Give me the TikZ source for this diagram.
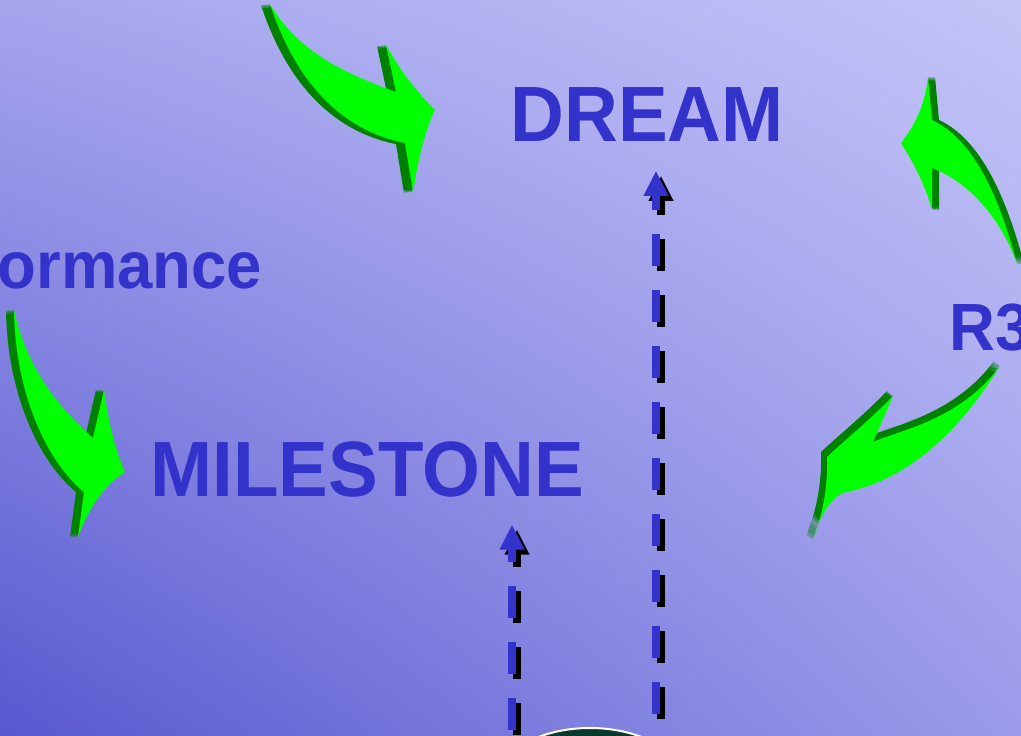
\documentclass[tikz,border=0pt]{standalone}
\usepackage{fontspec}
\setmainfont{Liberation Sans}[FakeStretch=0.95]
\usetikzlibrary{arrows.meta, shapes.geometric, shadings}
\definecolor{ink}{HTML}{3333CC}
\definecolor{leafgreen}{HTML}{00FF00}
\definecolor{leafdark}{HTML}{008000}
\definecolor{goalfill}{HTML}{0B3A2C}
\definecolor{bgLL}{RGB}{88,88,208}
\definecolor{bgUR}{RGB}{196,196,248}
\definecolor{bgUL}{RGB}{165,165,238}
\definecolor{bgLR}{RGB}{155,155,234}

% green bent arrow with a dark extruded side: dx, dy, outline
\newcommand\bentarrow[3]{%
  \foreach \s in {1,...,10}
    \fill[leafdark, shift={(\s/10*#1,\s/10*#2)}] #3;
  \fill[leafgreen] #3;}

\begin{document}
\begin{tikzpicture}[
        x=0.01cm, y=-0.01cm,
        word/.style={text=ink, font=\bfseries\fontsize{22.3}{26}\selectfont, inner sep=0pt, anchor=base west},
        smallword/.style={word, font=\bfseries\fontsize{19}{22}\selectfont},
        goal/.style={ellipse, draw=white, line width=0.02cm, fill=goalfill, minimum width=1.95cm, minimum height=1.2cm},
        flow/.style={draw=ink, line width=0.08cm, dash pattern=on 0.32cm off 0.24cm, -{Triangle[length=0.25cm, width=0.23cm]}},
        flowshadow/.style={flow, draw=black, transform canvas={xshift=0.05cm, yshift=-0.05cm}}
    ]

    \useasboundingbox (0,0) rectangle (1021,735);
    \clip (0,0) rectangle (1021,735);
    \shade[lower left=bgLL, upper right=bgUR, upper left=bgUL, lower right=bgLR] (0,0) rectangle (1021,735);

    % green arrows
    \bentarrow{-9}{1}{(270,4) .. controls (295,80) and (340,130) .. (405,143) -- (413,192)
        .. controls (418,160) and (425,130) .. (435,110) .. controls (415,90) and (400,70) .. (386,45)
        -- (396,92) .. controls (350,75) and (300,55) .. (270,4) -- cycle}
    \bentarrow{-8}{0}{(14,310) .. controls (15,390) and (45,460) .. (84,492) -- (78,537)
        .. controls (90,505) and (105,485) .. (125,472) .. controls (115,450) and (108,420) .. (104,390)
        -- (93,438) .. controls (50,400) and (25,360) .. (14,310) -- cycle}
    \bentarrow{7}{0}{(1017,264) .. controls (1000,200) and (975,140) .. (932,120) -- (928,77)
        .. controls (925,105) and (915,125) .. (901,143) .. controls (915,165) and (925,185) .. (932,210)
        -- (932,168) .. controls (965,180) and (1000,215) .. (1017,264) -- cycle}
    \bentarrow{-6}{-5}{(1000,366) .. controls (960,420) and (900,430) .. (873,442) -- (893,396)
        .. controls (870,420) and (845,440) .. (827,457) .. controls (828,490) and (822,515) .. (813,540)
        .. controls (820,515) and (830,500) .. (842,493) .. controls (910,480) and (960,430) .. (1000,366) -- cycle}

    \node (dream) [word] at (510,141) {DREAM};
    \node (milestone) [word] at (150,496) {MILESTONE};
    \node (perf) [smallword] at (-3,288) {ormance};
    \node (rthree) [smallword] at (949,350) {R3};

    \node (goal) [goal] at (590,788) {};
    \coordinate (msfoot) at (512,786);
    \coordinate (drfoot) at (656,714);

    \draw [flowshadow, shorten >=0.27cm] (msfoot) -- (msfoot |- milestone.south);
    \draw [flow, shorten >=0.27cm] (msfoot) -- (msfoot |- milestone.south);
    \draw [flowshadow, shorten >=0.29cm] (drfoot) -- (drfoot |- dream.south);
    \draw [flow, shorten >=0.29cm] (drfoot) -- (drfoot |- dream.south);

\end{tikzpicture}
\end{document}
